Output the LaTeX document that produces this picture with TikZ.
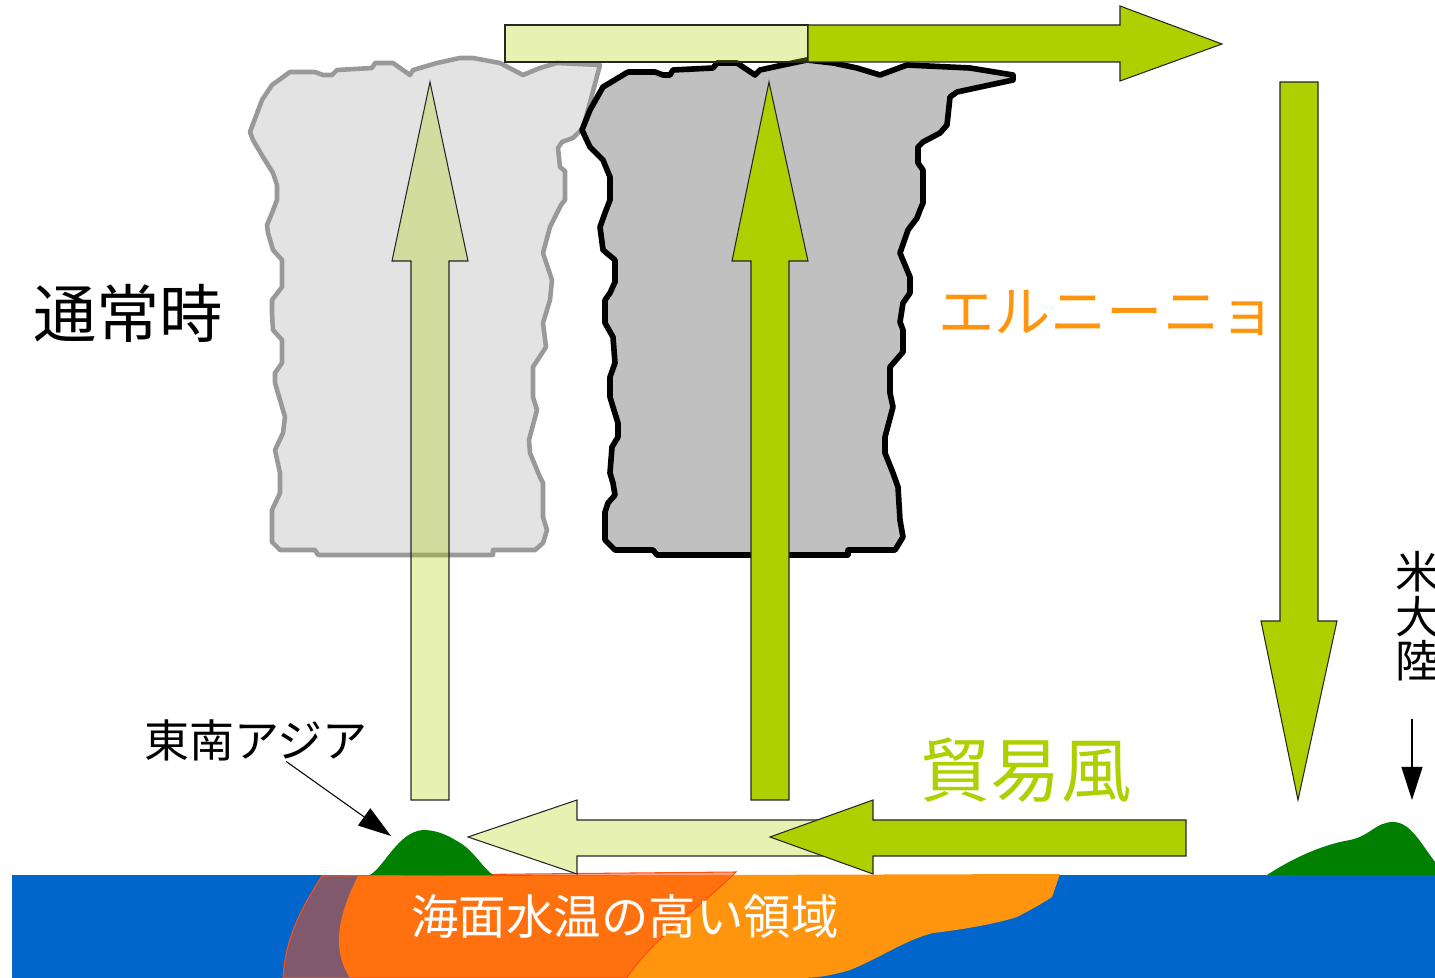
\documentclass[tikz,border=0pt]{standalone}
\usepackage{fontspec}
\newfontfamily\jpfont{Noto Sans CJK JP}
\usepackage{tikz}
\usetikzlibrary{arrows.meta}

\definecolor{windgreen}{HTML}{AECF00}
\definecolor{ninoorange}{HTML}{FF950E}
\definecolor{warmred}{HTML}{FF4E10}
\definecolor{seablue}{HTML}{0066CC}
\definecolor{landgreen}{HTML}{008000}
\definecolor{cloudgray}{HTML}{C0C0C0}
\definecolor{cloudlight}{HTML}{E3E3E3}
\definecolor{cloudedge}{HTML}{999999}

\begin{document}
\begin{tikzpicture}[x=0.1mm, y=-0.1mm,
        arrowbody/.style={draw=black!85, line width=0.3pt, line join=miter},
        strong/.style={arrowbody, fill=windgreen},
        faint/.style={arrowbody, fill=windgreen, fill opacity=0.3},
        pointer/.style={line width=0.3pt, -{Triangle[length=3.3mm, width=2.1mm]}},
        lbl/.style={font=\jpfont, inner sep=0pt}]
    \useasboundingbox (0,0) rectangle (1435,978);
    % sea and the warm water on it
    \fill[seablue] (12,875) rectangle (1435,978);
    \fill[ninoorange] (358,876) -- (1060,874) -- (1052,897) .. controls (1040,905) and (1030,910) .. (1017,917)
        .. controls (995,924) and (960,930) .. (933,933) .. controls (905,940) and (880,958) .. (850,970)
        .. controls (830,976) and (815,978) .. (800,978) -- (350,978) .. controls (335,955) and (333,925) .. (358,876) -- cycle;
    \filldraw[fill=warmred, fill opacity=0.5, draw=warmred, line width=0.3pt] (322,876) -- (736,872)
        .. controls (715,893) and (690,912) .. (670,930) .. controls (650,948) and (635,965) .. (627,978)
        -- (283,978) .. controls (285,940) and (300,910) .. (322,876) -- cycle;
    % islands
    \fill[landgreen] (370,875) .. controls (385,866) and (398,832) .. (423,830) .. controls (440,830) and (452,838) .. (462,844)
        .. controls (475,853) and (483,868) .. (493,875) -- cycle;
    \fill[landgreen] (1267,875) .. controls (1290,860) and (1320,845) .. (1350,840) .. controls (1370,836) and (1376,822) .. (1393,822)
        .. controls (1410,822) and (1420,842) .. (1435,862) -- (1435,875) -- cycle;
    % clouds
    \filldraw[fill=cloudlight, draw=cloudedge, line width=1.3pt, line join=round] (250,132) -- (262,100) -- (272,85) -- (290,72) -- (315,72) -- (323,75)
        -- (332,75) -- (337,70) -- (372,68) -- (375,63) -- (393,63) -- (410,75) -- (413,70) -- (437,63) -- (460,58) -- (473,58)
        -- (500,63) -- (523,75) -- (540,68) -- (557,63) -- (600,65) -- (592,95) -- (583,128) -- (573,138) -- (562,142) -- (558,148)
        -- (560,167) -- (565,171) -- (565,200) -- (561,205) -- (557,213) -- (550,227) -- (543,253) -- (552,280) -- (550,300)
        -- (543,323) -- (546,347) -- (533,367) -- (533,397) -- (537,410) -- (529,440) -- (530,453) -- (540,477) -- (543,483)
        -- (543,517) -- (547,530) -- (543,543) -- (535,550) -- (493,550) -- (493,555) -- (318,555) -- (315,550) -- (280,550)
        -- (272,542) -- (272,510) -- (280,493) -- (280,473) -- (275,450) -- (283,433) -- (285,417) -- (280,400) -- (275,383)
        -- (275,373) -- (282,363) -- (282,340) -- (273,330) -- (272,313) -- (272,300) -- (282,287) -- (282,260) -- (273,250)
        -- (268,233) -- (267,225) -- (272,213) -- (277,200) -- (277,185) -- (273,173) -- (263,157) -- (253,140) -- cycle;
    \filldraw[fill=cloudgray, draw=black, line width=1.6pt, line join=round] (582,130) -- (590,110) -- (603,87) -- (628,72) -- (655,72) -- (663,75)
        -- (670,75) -- (673,70) -- (713,68) -- (717,63) -- (737,63) -- (755,75) -- (760,70) -- (783,65) -- (807,60) -- (833,63)
        -- (857,68) -- (880,75) -- (907,65) -- (970,68) -- (1013,75) -- (1013,80) -- (957,92) -- (950,97) -- (947,125) -- (940,133)
        -- (923,142) -- (918,147) -- (918,163) -- (923,170) -- (923,203) -- (920,210) -- (917,218) -- (908,230) -- (900,253)
        -- (910,277) -- (910,293) -- (903,303) -- (900,322) -- (903,330) -- (903,352) -- (890,367) -- (890,393) -- (893,407)
        -- (885,437) -- (885,453) -- (893,473) -- (898,487) -- (900,520) -- (903,537) -- (895,550) -- (848,550) -- (848,555)
        -- (657,555) -- (653,550) -- (615,550) -- (605,540) -- (605,512) -- (608,503) -- (615,495) -- (613,483) -- (610,473)
        -- (612,447) -- (618,437) -- (618,423) -- (613,407) -- (610,397) -- (610,377) -- (615,363) -- (613,337) -- (605,323)
        -- (605,300) -- (610,293) -- (615,282) -- (615,260) -- (603,250) -- (600,227) -- (605,213) -- (610,200) -- (610,177)
        -- (603,160) -- (590,147) -- cycle;
    % circulation arrows, pale = normal years
    \filldraw[faint] (505,25) rectangle (808,62);
    \filldraw[strong] (808,25) -- (1120,25) -- (1120,6) -- (1222,44) -- (1120,81) -- (1120,62) -- (808,62) -- cycle;
    \filldraw[faint] (411,800) -- (411,261) -- (392,261) -- (430,82) -- (468,261) -- (449,261) -- (449,800) -- cycle;
    \filldraw[strong] (751,800) -- (751,261) -- (732,261) -- (769,82) -- (808,261) -- (789,261) -- (789,800) -- cycle;
    \filldraw[strong] (1280,82) -- (1318,82) -- (1318,621) -- (1337,621) -- (1298,800) -- (1261,621) -- (1280,621) -- cycle;
    \filldraw[faint] (873,820) -- (577,820) -- (577,800) -- (468,837) -- (577,874) -- (577,856) -- (873,856) -- cycle;
    \filldraw[strong] (1186,820) -- (873,820) -- (873,800) -- (770,837) -- (873,874) -- (873,856) -- (1186,856) -- cycle;
    % labels
    \node[lbl, font=\jpfont\fontsize{18pt}{18pt}\selectfont] (normal) at (128,313) {通常時};
    \node[lbl, font=\jpfont\fontsize{16pt}{16pt}\selectfont, text=ninoorange] (nino) at (1107,313) {エルニーニョ};
    \node[lbl, font=\jpfont\fontsize{20pt}{20pt}\selectfont, text=windgreen] (trade) at (1026,770) {貿易風};
    \node[lbl, font=\jpfont\fontsize{12.8pt}{12.8pt}\selectfont] (seasia) at (256,740) {東南アジア};
    \node[lbl, font=\jpfont\fontsize{12.6pt}{12.6pt}\selectfont, align=left, anchor=north west] (americas) at (1395,551) {米\\大\\陸};
    \node[lbl, font=\jpfont\fontsize{13.5pt}{13.5pt}\selectfont, text=white] (warmpool) at (625,917) {海面水温の高い領域};
    \coordinate (asiatip) at (391,836);
    \coordinate (amtip) at (1412,800);
    \draw[pointer] (seasia) -- (asiatip);
    \draw[pointer, shorten <=3.7mm] (americas.south -| amtip) -- (amtip);
\end{tikzpicture}
\end{document}
